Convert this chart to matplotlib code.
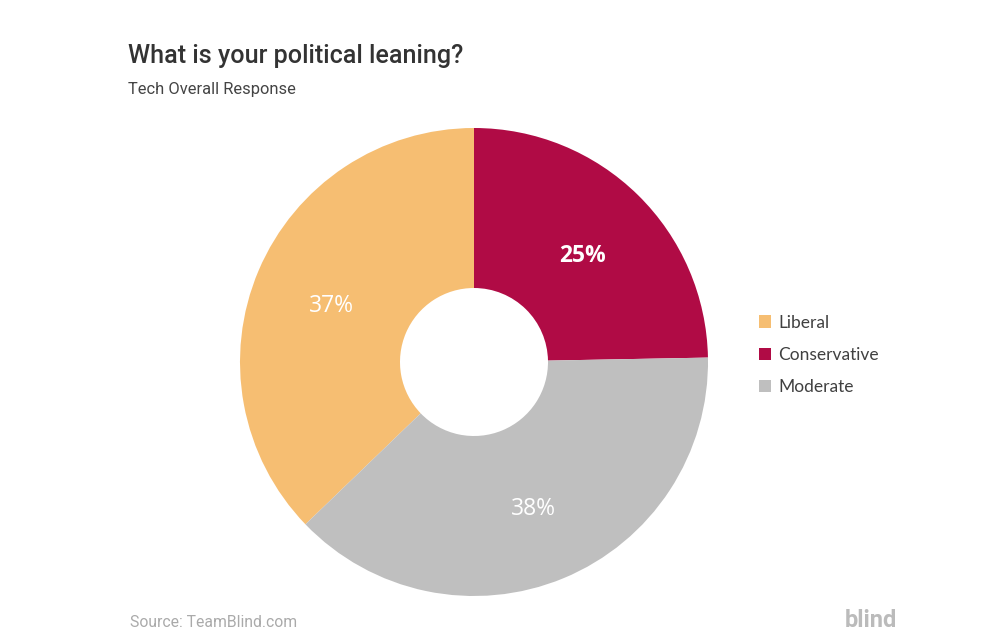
import matplotlib.pyplot as plt
from matplotlib.patches import Patch

# values (wedge angles), labels are rounded
categories = ["Liberal", "Conservative", "Moderate"]
shares = [37.2, 24.7, 38.1]
colors = ["#F6BE72", "#B00B45", "#BFBFBF"]

TITLE = "What is your political leaning?"
SUBTITLE = "Tech Overall Response"
SOURCE = "Source: TeamBlind.com"

fig = plt.figure(figsize=(10, 6.41), dpi=100)
fig.patch.set_facecolor("white")

ax = fig.add_axes([0.240, 45 / 641, 0.468, 468 / 641])
start = 90 + 360 * shares[0] / sum(shares)
wedges, texts, autotexts = ax.pie(
    shares, colors=colors, startangle=start, counterclock=False,
    autopct="%.0f%%", pctdistance=0.66,
    wedgeprops=dict(width=1 - 74 / 234, edgecolor="none"),
    textprops=dict(color="white", fontsize=16.5, family="Open Sans"),
)
for t, cat in zip(autotexts, categories):
    x, y = t.get_position()
    t.set_position((x, y - 0.018))
    if cat == "Conservative":
        t.set_fontweight("bold")
ax.set_xlim(-1, 1)
ax.set_ylim(-1, 1)
ax.set_aspect("equal")
ax.axis("off")

fig.text(0.128, 1 - 63 / 641, TITLE, fontsize=18.1, fontweight="medium",
         family="Roboto", color="#333333")
fig.text(0.128, 1 - 94 / 641, SUBTITLE, fontsize=11.9, family="Roboto",
         color="#444444")

handles = [Patch(facecolor=c, edgecolor="none") for c in colors]
leg = fig.legend(handles, categories, loc="center left",
                 bbox_to_anchor=(0.743, 1 - 355 / 641), frameon=False,
                 handlelength=0.7, handleheight=0.7, handletextpad=0.45,
                 labelspacing=0.95, prop=dict(family="Lato", size=12.5))
for t in leg.get_texts():
    t.set_color("#404040")

fig.text(0.130, 1 - 627 / 641, SOURCE, fontsize=11.3, family="Roboto",
         color="#AAAAAA")
fig.text(0.845, 1 - 627 / 641, "blind", fontsize=17, fontweight="bold",
         family="Roboto", color="#BBBBBB")

fig.savefig("out.png", dpi=100)
